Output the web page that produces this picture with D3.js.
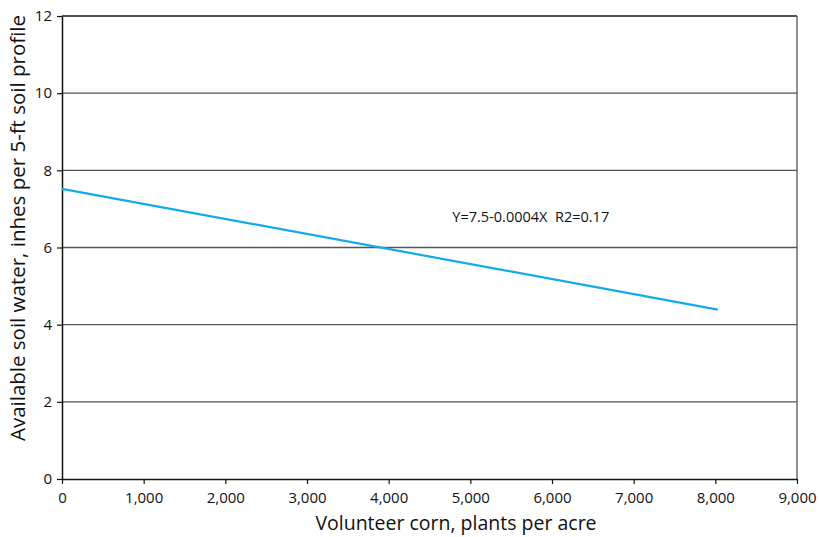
<!DOCTYPE html>
<html>
<head>
<meta charset="utf-8">
<script src="https://cdn.jsdelivr.net/npm/d3@7"></script>
<style>
  body { margin: 0; background: #fff; }
  text { font-family: "Open Sans", "Noto Sans", sans-serif; fill: #111; }
</style>
</head>
<body>
<script>
var xTicks = [0, 1000, 2000, 3000, 4000, 5000, 6000, 7000, 8000, 9000];
var yTicks = [0, 2, 4, 6, 8, 10, 12];
var lineX = [0, 8030];
var lineY = [7.52, 4.39];
var equation = "Y=7.5-0.0004X  R2=0.17";

var width = 819, height = 537;
var margin = {left: 62, right: 22, top: 16, bottom: 58};

var svg = d3.select("body").append("svg")
    .attr("width", width)
    .attr("height", height);

var x = d3.scaleLinear().domain([0, 9000]).range([margin.left, width - margin.right]);
var y = d3.scaleLinear().domain([0, 12]).range([height - margin.bottom, margin.top]);

// gridlines
svg.append("g")
    .selectAll("line")
    .data(yTicks.slice(1))
    .enter().append("line")
    .attr("x1", x(0))
    .attr("x2", x(9000))
    .attr("y1", function (d) { return y(d); })
    .attr("y2", function (d) { return y(d); })
    .attr("stroke", function (d) { return d == 12 ? "#1a1a1a" : "#555"; })
    .attr("stroke-width", 1.3);

// right border
svg.append("line")
    .attr("x1", x(9000)).attr("x2", x(9000))
    .attr("y1", y(12)).attr("y2", y(0))
    .attr("stroke", "#555").attr("stroke-width", 1.3);

var xAxis = svg.append("g")
    .attr("transform", "translate(0," + y(0) + ")")
    .call(d3.axisBottom(x).tickValues(xTicks).tickSize(5).tickSizeOuter(0).tickFormat(d3.format(",")));

var yAxis = svg.append("g")
    .attr("transform", "translate(" + x(0) + ",0)")
    .call(d3.axisLeft(y).tickValues(yTicks).tickSize(5).tickSizeOuter(0));

[xAxis, yAxis].forEach(function (a) {
    a.select(".domain").attr("stroke", "#111").attr("stroke-width", 1.5);
    a.selectAll(".tick line").attr("stroke", "#111").attr("stroke-width", 1.2);
    a.selectAll(".tick text").style("font-size", "15px").attr("fill", "#111");
});
xAxis.selectAll(".tick text").attr("y", 24).attr("dy", 0);
yAxis.selectAll(".tick text").attr("x", -10);

// regression line
svg.append("line")
    .attr("x1", x(lineX[0])).attr("y1", y(lineY[0]))
    .attr("x2", x(lineX[1])).attr("y2", y(lineY[1]))
    .attr("stroke", "#12aae8")
    .attr("stroke-width", 2.2);

svg.append("text")
    .attr("x", x(4780))
    .attr("y", 222)
    .style("font-size", "14.5px")
    .style("white-space", "pre")
    .text(equation);

// axis titles
svg.append("text")
    .attr("x", 456)
    .attr("y", 530)
    .attr("text-anchor", "middle")
    .style("font-size", "19.5px")
    .text("Volunteer corn, plants per acre");

svg.append("text")
    .attr("transform", "translate(25,228) rotate(-90)")
    .attr("text-anchor", "middle")
    .style("font-size", "20.5px")
    .text("Available soil water, inhes per 5-ft soil profile");
</script>
</body>
</html>
